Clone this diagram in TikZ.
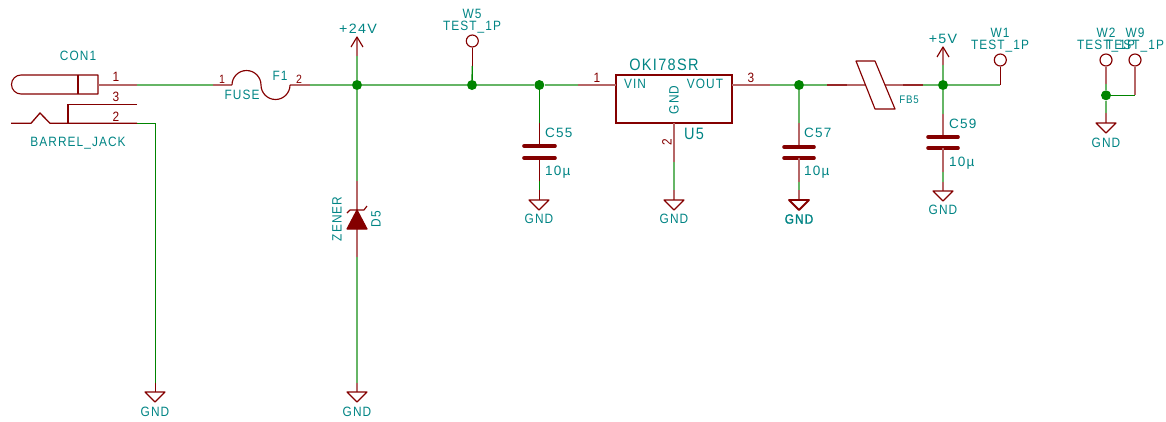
\documentclass[tikz,border=0pt]{standalone}
\usepackage{graphicx}
\usepackage{fontspec}
\setmainfont[LetterSpace=8,FakeStretch=0.88]{Liberation Sans}
\newfontfamily\boldish[LetterSpace=8,FakeStretch=0.88,FakeBold=1.5]{Liberation Sans}
\definecolor{sym}{HTML}{840000}
\definecolor{wir}{HTML}{008400}
\definecolor{txt}{HTML}{008484}
\newcommand{\widelab}[1]{\scalebox{1.14}[1]{#1}}
\tikzset{
  wire/.style={draw=wir!60!white,line width=1.9pt},
  pinw/.style={draw=sym!60!white,line width=1.9pt},
  thinw/.style={draw=wir,line width=1.35pt},
  thinp/.style={draw=sym,line width=1.3pt},
  pinov/.style={draw=sym!85!white,line width=1.9pt},
  body/.style={draw=sym,line width=1.15pt,line join=round},
  plate/.style={draw=sym,line width=3.6pt,line cap=round},
  junc/.style={circle,fill=wir,draw=none,minimum size=10pt,inner sep=0pt},
  tp/.style={circle,draw=sym,line width=1.15pt,fill=white,minimum size=12pt,inner sep=0pt},
  lab/.style={text=txt,font=\fontsize{13.5}{13.5}\selectfont,inner sep=0pt},
  labbig/.style={text=txt,font=\fontsize{16.5}{16.5}\selectfont,inner sep=0pt},
  num/.style={text=sym,font=\fontsize{13.5}{13.5}\selectfont,inner sep=0pt},
  gndsym/.style={body},
}
% GND symbol: \gndat{name}{x}{ytop}{ytext}
\newcommand{\gndat}[4]{%
  \coordinate (#1) at (#2,#3);
  \draw[gndsym] (#2-10,#3) -- (#2+10,#3) -- (#2,#3+10) -- cycle;
  \node[lab] (#1t) at (#2,#4) {GND};
}
\begin{document}
\begin{tikzpicture}[x=1pt,y=-1pt]
\useasboundingbox (0,0) rectangle (1166,421);
% ---- coordinates
\coordinate (p1a) at (98,85);
\coordinate (p1b) at (137,85);
\coordinate (fa) at (213,85);
\coordinate (fb) at (232,85);
\coordinate (fc) at (290,85);
\coordinate (fd) at (310,85);
\coordinate (p2a) at (68,123.3);
\coordinate (p2b) at (137,123.3);
\coordinate (p3a) at (68,104.3);
\coordinate (p3b) at (137,104.3);
\coordinate (bend) at (155.2,123.3);
\coordinate (g1p) at (155.2,383);
\coordinate (vin) at (616,85);
\coordinate (vinp) at (578,85);
\coordinate (vout) at (732,85);
\coordinate (voutp) at (770,85);
\coordinate (fb1) at (827,85);
\coordinate (fb1b) at (847,85);
\coordinate (fb2a) at (903,85);
\coordinate (fb2) at (923,85);
\coordinate (w1c) at (1000.3,85);
\coordinate (w9c) at (1135,95.3);
% ---- junctions and test points
\node[junc] (j24) at (357,85) {};
\node[junc] (jw5) at (472,85) {};
\node[junc] (jc55) at (539.3,85) {};
\node[junc] (jc57) at (799,85) {};
\node[junc] (j5) at (943,85) {};
\node[junc] (jg) at (1106,95.3) {};
\node[tp] (w5) at (472.3,41) {};
\node[tp] (w1) at (1000.3,60) {};
\node[tp] (w2) at (1106,60) {};
\node[tp] (w9) at (1135,60) {};
\node[draw=sym,line width=1.15pt,minimum width=116pt,minimum height=48pt,inner sep=0pt] (u5) at (674,99) {};
% ---- wires
\draw[wire] (p1b) -- (fa);
\draw[wire] (fd) -- (j24);
\draw[wire] (j24) -- (jw5);
\draw[wire] (jw5) -- (jc55);
\draw[wire] (jc55) -- (vinp);
\draw[thinw] (p2b) -- (bend) -- (g1p);
\draw[wire] (voutp) -- (jc57);
\draw[wire] (jc57) -- (fb1);
\draw[wire] (fb2) -- (j5);
\draw[wire] (j5) -- (w1c);
\draw[thinw] (jg) -- (w9c);
% ---- barrel jack
\draw[body] (98,75) -- (21,75) arc[start angle=270,end angle=90,radius=9.5] -- (98,94) -- cycle;
\draw[body] (78,75) -- (78,94);
\draw[pinw] (p1a) -- (p1b);
\draw[thinp] (p3b) -- (p3a) -- (p2a);
\draw[thinp] (p2b) -- (50,123.3) -- (40,113) -- (31,123.3) -- (11,123.3);
\node[lab] (con1) at (78,56) {CON1};
\node[lab] (jack) at (78,143) {BARREL\_JACK};
\node[num] (n1) at (116,77) {1};
\node[num] (n3) at (116,97) {3};
\node[num] (n2) at (116,117) {2};
\draw[thinp] (g1p) -- (155.2,392);
\gndat{g1}{155}{392}{412}
% ---- fuse
\draw[pinw] (fa) -- (fb);
\draw[pinw] (fc) -- (fd);
\draw[body] (fb) arc[start angle=180,end angle=360,radius=14.5] arc[start angle=180,end angle=0,radius=14.5];
\node[num,font=\fontsize{12}{12}\selectfont] (fn1) at (222,79) {1};
\node[num,font=\fontsize{12}{12}\selectfont] (fn2) at (299,79) {2};
\node[lab] (f1) at (280,76) {F1};
\node[lab] (fuse) at (242,95) {FUSE};
% ---- +24V
\coordinate (a24) at (357,37);
\coordinate (a24p) at (357,56);
\draw[wire] (j24) -- (a24p);
\draw[pinw] (a24p) -- (a24);
\draw[body] (351,47) -- (a24) -- (363,47);
\node[lab] (v24) at (358,29) {\scalebox{1.2}[1]{+24V}};
% ---- zener
\coordinate (dg) at (357,181);
\coordinate (da) at (357,210);
\coordinate (dk) at (357,229);
\coordinate (dh) at (357,257);
\coordinate (dj) at (357,383);
\draw[wire] (j24) -- (dg);
\draw[pinw] (dg) -- (da);
\draw[pinw] (dk) -- (dh);
\draw[wire] (dh) -- (dj);
\draw[pinw] (dj) -- (357,392);
\filldraw[body,fill=sym] (da) -- (367,229) -- (347,229) -- cycle;
\draw[body] (347,213) -- (350,210) -- (364,210) -- (367,206);
\node[lab,rotate=90] (zener) at (337,219) {ZENER};
\node[lab,rotate=90] (d5) at (376,219) {D5};
\gndat{g2}{357}{392}{412}
% ---- W5
\coordinate (w5p) at (472.3,66);
\draw[thinw] (jw5) -- (w5p);
\draw[thinp] (w5p) -- (w5);
\node[lab] (w5t) at (472,14) {W5};
\node[lab] (w5v) at (472,27) {TEST\_1P};
% ---- C55
\coordinate (c55a) at (539.3,123);
\coordinate (c55b) at (539.3,146);
\coordinate (c55c) at (539.3,158);
\coordinate (c55d) at (539.3,181);
\coordinate (c55e) at (539.3,190);
\draw[thinw] (jc55) -- (c55a);
\draw[thinp] (c55a) -- (c55b);
\draw[plate] (524,146) -- (555,146);
\draw[plate] (524,158) -- (555,158);
\draw[thinp] (c55c) -- (c55d);
\draw[thinw] (c55d) -- (c55e);
\draw[thinp] (c55e) -- (539.3,200);
\node[lab,anchor=west] (c55l) at (545,133) {\widelab{C55}};
\node[lab,anchor=west] (c55v) at (545,172) {\widelab{10µ}};
\gndat{g3}{539}{200}{219}
% ---- U5
\draw[pinw] (vinp) -- (vin);
\draw[pinw] (vout) -- (voutp);
\node[num] (u1) at (597,78) {1};
\node[num] (u3) at (751,78) {3};
\node[num,rotate=90] (u2) at (667,142) {2};
\node[lab] (vint) at (635,84) {VIN};
\node[lab] (voutt) at (705,84) {VOUT};
\node[lab,rotate=90] (gndt) at (674,100) {GND};
\node[labbig] (oki) at (664,65) {OKI78SR};
\node[labbig] (u5t) at (694,134) {U5};
\coordinate (u5g) at (674,123);
\coordinate (u5h) at (674,162);
\coordinate (u5i) at (674,190);
\draw[pinw] (u5g) -- (u5h);
\draw[wire] (u5h) -- (u5i);
\draw[pinw] (u5i) -- (674,200);
\gndat{g4}{674}{200}{219}
% ---- C57
\coordinate (c57a) at (799,123);
\coordinate (c57b) at (799,147);
\coordinate (c57c) at (799,158);
\coordinate (c57d) at (799,182);
\coordinate (c57e) at (799,190);
\draw[wire] (jc57) -- (c57a);
\draw[pinw] (c57a) -- (c57b);
\draw[plate] (784,147) -- (814,147);
\draw[plate] (784,158) -- (814,158);
\draw[pinw] (c57c) -- (c57d);
\draw[wire] (c57d) -- (c57e);
\draw[pinw] (c57e) -- (799,200);
\node[lab,anchor=west] (c57l) at (804,133) {\widelab{C57}};
\node[lab,anchor=west] (c57v) at (804,172) {\widelab{10µ}};
\draw[gndsym,line width=1.8pt] (789,200) -- (809,200) -- (799,210) -- cycle;
\coordinate (g5) at (799,200);
\node[lab,font=\fontsize{13.5}{13.5}\boldish] (g5t) at (799,219) {GND};
% ---- FB5
\draw[pinov] (fb1) -- (fb1b);
\draw[pinw] (fb1b) -- (fb2a);
\draw[pinov] (fb2a) -- (fb2);
\filldraw[body,fill=white] (856,61) -- (875,61) -- (895,109) -- (875,109) -- cycle;
\node[lab,font=\fontsize{11}{11}\selectfont] (fb5) at (909,100) {FB5};
% ---- +5V
\coordinate (a5) at (943,47);
\coordinate (a5p) at (943,65);
\draw[wire] (j5) -- (a5p);
\draw[pinw] (a5p) -- (a5);
\draw[body] (937,57) -- (a5) -- (949,57);
\node[lab] (v5) at (943,39) {\scalebox{1.2}[1]{+5V}};
% ---- C59
\coordinate (c59a) at (943,114);
\coordinate (c59b) at (943,137);
\coordinate (c59c) at (943,148);
\coordinate (c59d) at (943,172);
\coordinate (c59e) at (943,182);
\draw[wire] (j5) -- (c59a);
\draw[pinw] (c59a) -- (c59b);
\draw[plate] (928,137) -- (958,137);
\draw[plate] (928,148) -- (958,148);
\draw[pinw] (c59c) -- (c59d);
\draw[wire] (c59d) -- (c59e);
\draw[pinw] (c59e) -- (943,191);
\node[lab,anchor=west] (c59l) at (949,124) {\widelab{C59}};
\node[lab,anchor=west] (c59v) at (949,163) {\widelab{10µ}};
\gndat{g6}{943}{191}{210}
% ---- W1
\draw[thinp] (w1c) -- (w1);
\node[lab] (w1t) at (1000,33) {W1};
\node[lab] (w1v) at (1000,46) {TEST\_1P};
% ---- W2, W9
\coordinate (w2p) at (1106,84);
\coordinate (g7p) at (1106,113);
\draw[pinw] (w2) -- (w2p);
\draw[wire] (w2p) -- (jg);
\draw[wire] (jg) -- (g7p);
\draw[pinw] (g7p) -- (1106,123);
\draw[pinw] (w9) -- (w9c);
\gndat{g7}{1106}{123}{143}
\node[lab] (w2t) at (1106,33) {W2};
\node[lab] (w2v) at (1106,46) {TEST\_1P};
\node[lab] (w9t) at (1135,33) {W9};
\node[lab] (w9v) at (1135,46) {TEST\_1P};
\end{tikzpicture}
\end{document}
